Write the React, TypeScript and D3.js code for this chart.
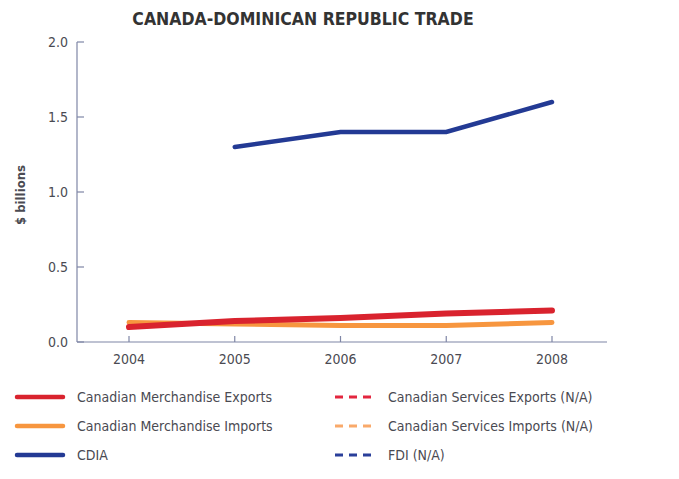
import React from "react";
import * as d3 from "d3";

const years = [2004, 2005, 2006, 2007, 2008];
const merchExports = [0.10, 0.14, 0.16, 0.19, 0.21];
const merchImports = [0.13, 0.12, 0.11, 0.11, 0.13];
const cdiaYears = [2005, 2006, 2007, 2008];
const cdia = [1.3, 1.4, 1.4, 1.6];
const yTicks = [0, 0.5, 1.0, 1.5, 2.0];

const legendLeft = [
  { label: "Canadian Merchandise Exports", color: "#d9232e" },
  { label: "Canadian Merchandise Imports", color: "#f7963f" },
  { label: "CDIA", color: "#233a94" },
];
const legendRight = [
  { label: "Canadian Services Exports (N/A)", color: "#e3263f" },
  { label: "Canadian Services Imports (N/A)", color: "#f9a96a" },
  { label: "FDI (N/A)", color: "#2a3f9a" },
];

const FONT = "'Liberation Sans Narrow', 'DejaVu Sans Condensed', 'Liberation Sans', sans-serif";

export default function App() {
  const W = 679, H = 479;
  const x = d3.scaleLinear().domain([2004, 2008]).range([129, 552]);
  const y = d3.scaleLinear().domain([0, 2]).range([342, 42]);
  const axisColor = "#7f86a6";
  const textColor = "#4a4a52";

  const line = d3.line<[number, number]>().x(d => x(d[0])).y(d => y(d[1]));
  const exportsPts = years.map((yr, i) => [yr, merchExports[i]] as [number, number]);
  const importsPts = years.map((yr, i) => [yr, merchImports[i]] as [number, number]);
  const cdiaPts = cdiaYears.map((yr, i) => [yr, cdia[i]] as [number, number]);

  return (
    <svg width={W} height={H} style={{ position: "absolute", left: 0, top: 0, background: "#fff" }}>
      <text x={303} y={25} textAnchor="middle" fontFamily={FONT} fontWeight="bold" fontSize={17.5} fill="#333">
        CANADA-DOMINICAN REPUBLIC TRADE
      </text>
      {/* axes */}
      <line x1={77} x2={77} y1={y(2)} y2={y(0)} stroke={axisColor} strokeWidth={1.2} />
      <line x1={77} x2={607} y1={y(0)} y2={y(0)} stroke={axisColor} strokeWidth={1.2} />
      {yTicks.map(t => (
        <g key={t}>
          <line x1={77} x2={84} y1={y(t)} y2={y(t)} stroke={axisColor} strokeWidth={1.2} />
          <text x={68} y={y(t) + 5} textAnchor="end" fontFamily={FONT} fontSize={14} fill={textColor}>
            {t.toFixed(1)}
          </text>
        </g>
      ))}
      {years.map(yr => (
        <g key={yr}>
          <line x1={x(yr)} x2={x(yr)} y1={y(0)} y2={y(0) - 6} stroke={axisColor} strokeWidth={1.2} />
          <text x={x(yr)} y={y(0) + 22} textAnchor="middle" fontFamily={FONT} fontSize={14} fill={textColor}>
            {yr}
          </text>
        </g>
      ))}
      <text transform={`translate(25,195) rotate(-90)`} textAnchor="middle" fontFamily={FONT} fontWeight="bold" fontSize={13} fill={textColor}>
        $ billions
      </text>
      {/* lines */}
      <path d={line(importsPts) || ""} fill="none" stroke="#f7963f" strokeWidth={5} strokeLinecap="round" />
      <path d={line(exportsPts) || ""} fill="none" stroke="#d9232e" strokeWidth={6} strokeLinecap="round" />
      <path d={line(cdiaPts) || ""} fill="none" stroke="#233a94" strokeWidth={4.5} strokeLinecap="round" />
      {/* legend */}
      {legendLeft.map((l, i) => (
        <g key={l.label}>
          <line x1={17} x2={63} y1={397 + i * 29} y2={397 + i * 29} stroke={l.color} strokeWidth={4.5} strokeLinecap="round" />
          <text x={77} y={402 + i * 29} fontFamily={FONT} fontSize={14} fill={textColor}>{l.label}</text>
        </g>
      ))}
      {legendRight.map((l, i) => (
        <g key={l.label}>
          <line x1={335} x2={374} y1={397 + i * 29} y2={397 + i * 29} stroke={l.color} strokeWidth={3} strokeDasharray="8,6" />
          <text x={388} y={402 + i * 29} fontFamily={FONT} fontSize={14} fill={textColor}>{l.label}</text>
        </g>
      ))}
    </svg>
  );
}
